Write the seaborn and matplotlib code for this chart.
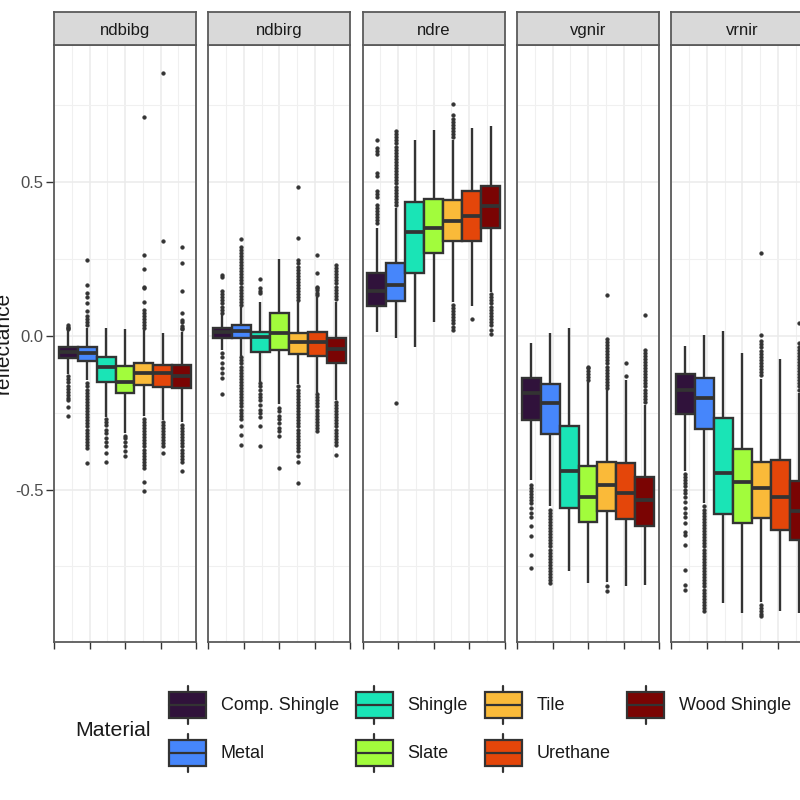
import numpy as np
import pandas as pd
import matplotlib
matplotlib.use("Agg")
import matplotlib.pyplot as plt
import seaborn as sns
from matplotlib.legend_handler import HandlerBase
from matplotlib.patches import Rectangle, Patch
from matplotlib.lines import Line2D

# ---------------- data ----------------
indices = ["ndbibg", "ndbirg", "ndre", "vgnir", "vrnir"]
materials = ["Comp. Shingle", "Metal", "Shingle", "Slate", "Tile", "Urethane", "Wood Shingle"]
colors = ["#30123B", "#4686FB", "#1AE4B6", "#A2FC3C", "#FABA39", "#E4460A", "#7A0403"]

# (lower whisker, q1, median, q3, upper whisker) per material
ndbibg_stats = [(-0.125, -0.073, -0.053, -0.036, 0.018),
                (-0.145, -0.082, -0.055, -0.038, 0.026),
                (-0.263, -0.149, -0.100, -0.070, 0.024),
                (-0.316, -0.187, -0.149, -0.097, 0.022),
                (-0.262, -0.160, -0.120, -0.088, 0.018),
                (-0.275, -0.168, -0.122, -0.095, 0.009),
                (-0.280, -0.171, -0.131, -0.095, 0.013)]
ndbibg_out = [[0.022, 0.026, 0.030, 0.034, -0.132, -0.142, -0.152, -0.162, -0.172, -0.182, -0.192, -0.202, -0.210, -0.232, -0.260],
              [0.035, 0.045, 0.055, 0.065, 0.081, 0.107, 0.127, 0.138, 0.165, 0.245,
               -0.155, -0.165, -0.175, -0.185, -0.195, -0.205, -0.215, -0.225, -0.235, -0.245, -0.255,
               -0.265, -0.275, -0.285, -0.295, -0.305, -0.315, -0.325, -0.335, -0.345, -0.355, -0.365, -0.413],
              [-0.270, -0.279, -0.290, -0.306, -0.317, -0.333, -0.344, -0.360, -0.382, -0.409],
              [-0.325, -0.333, -0.345, -0.360, -0.375, -0.390],
              [0.025, 0.035, 0.045, 0.055, 0.065, 0.075, 0.083, 0.110, 0.155, 0.160, 0.216, 0.262, 0.711,
               -0.27, -0.28, -0.29, -0.30, -0.31, -0.32, -0.33, -0.34, -0.35, -0.36, -0.37, -0.38, -0.39,
               -0.40, -0.41, -0.42, -0.43, -0.474, -0.505],
              [0.308, 0.855, -0.282, -0.29, -0.30, -0.31, -0.32, -0.33, -0.34, -0.35, -0.36, -0.382],
              [0.021, 0.026, 0.031, 0.045, 0.050, 0.073, 0.146, 0.237, 0.289,
               -0.29, -0.30, -0.31, -0.32, -0.33, -0.34, -0.35, -0.36, -0.37, -0.38, -0.39, -0.40, -0.41, -0.44]]

ndbirg_stats = [(-0.046, -0.006, 0.013, 0.025, 0.070),
                (-0.066, -0.006, 0.015, 0.035, 0.095),
                (-0.150, -0.053, -0.004, 0.013, 0.110),
                (-0.222, -0.046, 0.008, 0.075, 0.251),
                (-0.158, -0.058, -0.020, 0.010, 0.110),
                (-0.185, -0.067, -0.020, 0.012, 0.125),
                (-0.208, -0.088, -0.043, -0.007, 0.110)]
ndbirg_out = [[0.075, 0.085, 0.095, 0.105, 0.115, 0.125, 0.135, 0.145, 0.190, 0.197,
               -0.055, -0.068, -0.090, -0.106, -0.122, -0.138, -0.190],
              [0.10, 0.11, 0.12, 0.13, 0.14, 0.15, 0.16, 0.17, 0.18, 0.19, 0.20, 0.21, 0.22, 0.23, 0.24,
               0.25, 0.26, 0.27, 0.28, 0.29, 0.316,
               -0.07, -0.08, -0.09, -0.10, -0.11, -0.12, -0.13, -0.14, -0.15, -0.16, -0.17, -0.18, -0.19,
               -0.20, -0.21, -0.22, -0.23, -0.24, -0.25, -0.26, -0.27, -0.295, -0.322, -0.355],
              [0.140, 0.145, 0.155, 0.186, -0.155, -0.165, -0.175, -0.190, -0.200, -0.210, -0.225, -0.240,
               -0.250, -0.263, -0.293, -0.360],
              [-0.235, -0.245, -0.260, -0.270, -0.285, -0.300, -0.310, -0.325, -0.430],
              [0.115, 0.125, 0.135, 0.145, 0.155, 0.165, 0.175, 0.185, 0.195, 0.205, 0.215, 0.225, 0.235,
               0.246, 0.318, 0.484,
               -0.165, -0.175, -0.185, -0.195, -0.205, -0.215, -0.225, -0.235, -0.245, -0.255, -0.265,
               -0.275, -0.285, -0.295, -0.305, -0.315, -0.325, -0.335, -0.345, -0.355, -0.365, -0.375,
               -0.390, -0.410, -0.478],
              [0.133, 0.140, 0.148, 0.155, 0.160, 0.203, 0.264,
               -0.19, -0.20, -0.21, -0.22, -0.23, -0.24, -0.25, -0.26, -0.27, -0.28, -0.29, -0.30, -0.31],
              [0.12, 0.13, 0.14, 0.15, 0.16, 0.17, 0.18, 0.19, 0.20, 0.21, 0.22, 0.23,
               -0.215, -0.225, -0.235, -0.245, -0.255, -0.265, -0.275, -0.285, -0.295, -0.305, -0.315,
               -0.325, -0.335, -0.345, -0.355, -0.387]]

ndre_stats = [(0.013, 0.096, 0.145, 0.203, 0.350),
              (-0.008, 0.113, 0.166, 0.235, 0.415),
              (-0.036, 0.204, 0.337, 0.435, 0.635),
              (0.045, 0.268, 0.350, 0.443, 0.668),
              (0.110, 0.307, 0.373, 0.440, 0.635),
              (0.098, 0.307, 0.390, 0.470, 0.674),
              (0.142, 0.349, 0.422, 0.488, 0.683)]
ndre_out = [[0.368, 0.375, 0.385, 0.395, 0.405, 0.415, 0.425, 0.450, 0.460, 0.470, 0.520, 0.530,
             0.590, 0.600, 0.610, 0.635],
            [0.425, 0.435, 0.445, 0.455, 0.465, 0.475, 0.485, 0.495, 0.505, 0.515, 0.525, 0.535, 0.545,
             0.555, 0.565, 0.575, 0.585, 0.595, 0.605, 0.615, 0.625, 0.635, 0.645, 0.655, 0.665, -0.22],
            [],
            [],
            [0.645, 0.655, 0.665, 0.675, 0.685, 0.695, 0.706, 0.717, 0.752,
             0.100, 0.090, 0.080, 0.070, 0.060, 0.050, 0.040, 0.030, 0.018],
            [0.055],
            [0.135, 0.125, 0.115, 0.105, 0.095, 0.085, 0.075, 0.065, 0.055, 0.045, 0.035, 0.018, 0.005]]

vgnir_stats = [(-0.470, -0.275, -0.187, -0.138, -0.025),
               (-0.555, -0.318, -0.219, -0.158, 0.008),
               (-0.766, -0.560, -0.440, -0.295, 0.024),
               (-0.804, -0.606, -0.524, -0.423, -0.150),
               (-0.800, -0.569, -0.485, -0.411, -0.176),
               (-0.815, -0.597, -0.510, -0.414, -0.145),
               (-0.810, -0.618, -0.535, -0.460, -0.225)]
vgnir_out = [[-0.485, -0.495, -0.505, -0.515, -0.525, -0.535, -0.545, -0.560, -0.575, -0.590, -0.620,
              -0.650, -0.712, -0.755],
             [-0.565, -0.575, -0.585, -0.595, -0.605, -0.615, -0.625, -0.635, -0.645, -0.655, -0.665,
              -0.675, -0.685, -0.695, -0.705, -0.715, -0.725, -0.735, -0.745, -0.755, -0.765, -0.775,
              -0.785, -0.795, -0.805],
             [],
             [-0.145, -0.135, -0.125, -0.115, -0.105, -0.100],
             [-0.17, -0.16, -0.15, -0.14, -0.13, -0.12, -0.11, -0.10, -0.09, -0.08, -0.07, -0.06, -0.05,
              -0.04, -0.03, -0.02, -0.01, 0.132, -0.815, -0.830],
             [-0.131, -0.090],
             [-0.215, -0.205, -0.195, -0.185, -0.175, -0.165, -0.155, -0.145, -0.135, -0.125, -0.115,
              -0.105, -0.095, -0.085, -0.075, -0.065, -0.055, -0.045, 0.067]]

vrnir_stats = [(-0.440, -0.253, -0.176, -0.124, -0.033),
               (-0.545, -0.302, -0.203, -0.138, 0.004),
               (-0.869, -0.581, -0.447, -0.268, 0.017),
               (-0.900, -0.610, -0.474, -0.368, -0.056),
               (-0.865, -0.594, -0.494, -0.411, -0.140),
               (-0.896, -0.631, -0.523, -0.404, -0.075),
               (-0.900, -0.663, -0.570, -0.471, -0.185)]
vrnir_out = [[-0.450, -0.460, -0.470, -0.480, -0.490, -0.500, -0.510, -0.523, -0.540, -0.561, -0.577,
              -0.588, -0.610, -0.637, -0.648, -0.680, -0.761, -0.810, -0.826],
             [-0.555, -0.565, -0.575, -0.585, -0.595, -0.605, -0.615, -0.625, -0.635, -0.645, -0.655,
              -0.665, -0.675, -0.685, -0.695, -0.705, -0.715, -0.725, -0.735, -0.745, -0.755, -0.765,
              -0.775, -0.785, -0.795, -0.805, -0.815, -0.825, -0.835, -0.845, -0.855, -0.865, -0.875,
              -0.885, -0.895],
             [],
             [],
             [-0.128, -0.118, -0.108, -0.098, -0.088, -0.078, -0.068, -0.058, -0.048, -0.038, -0.028,
              -0.018, 0.002, 0.268, -0.875, -0.885, -0.895, -0.905, -0.912],
             [],
             [-0.175, -0.165, -0.155, -0.145, -0.135, -0.125, -0.115, -0.105, -0.095, -0.085, -0.075,
              -0.065, -0.055, -0.045, -0.035, -0.025, 0.042]]

all_stats = {"ndbibg": ndbibg_stats, "ndbirg": ndbirg_stats, "ndre": ndre_stats,
             "vgnir": vgnir_stats, "vrnir": vrnir_stats}
all_out = {"ndbibg": ndbibg_out, "ndbirg": ndbirg_out, "ndre": ndre_out,
           "vgnir": vgnir_out, "vrnir": vrnir_out}

# expand summaries into observations whose quartiles equal the summaries
N = 200
rows = []
for idx in indices:
    for m, (st, out) in enumerate(zip(all_stats[idx], all_out[idx])):
        wlo, q1, med, q3, whi = st
        vals = [wlo] + [q1] * N + [med] * N + [q3] * N + [whi] + list(out)
        for v in vals:
            rows.append((idx, materials[m], v))
df = pd.DataFrame(rows, columns=["index", "Material", "reflectance"])
df["grp"] = "all"

# ---------------- style ----------------
sns.set_theme(style="white")
plt.rcParams["font.family"] = ["Liberation Sans", "DejaVu Sans"]

W, H = 800.0, 800.0
fig = plt.figure(figsize=(8, 8), dpi=100)
fig.patch.set_facecolor("white")

lefts = [54.0, 208.3, 362.7, 517.0, 671.3]
pw = 142.0
ptop, pbot, stop = 45.0, 641.7, 12.0
edge = "#333333"
grid_c = "#EBEBEB"
border_c = "#5A5A5A"

for k, idx in enumerate(indices):
    ax = fig.add_axes([lefts[k] / W, 1 - pbot / H, pw / W, (pbot - ptop) / H])
    sub = df[df["index"] == idx]
    sns.boxplot(data=sub, x="grp", y="reflectance", hue="Material", hue_order=materials,
                palette=colors, saturation=1, width=0.935, dodge=True, linecolor=edge,
                linewidth=1.7, fliersize=2.7, showcaps=False, legend=False,
                flierprops=dict(marker="o", markerfacecolor=edge, markeredgecolor=edge,
                                markeredgewidth=0.3),
                medianprops=dict(linewidth=2.7, color=edge), ax=ax)
    ax.set_xlim(-0.5, 0.5)
    ax.set_ylim(-0.9945, 0.945)
    ax.set_xlabel("")
    ax.set_ylabel("")
    ax.set_xticks([-0.5, -0.25, 0, 0.25, 0.5])
    ax.set_xticks([-0.375, -0.125, 0.125, 0.375], minor=True)
    ax.set_xticklabels([])
    ax.set_yticks([-0.5, 0.0, 0.5])
    ax.set_yticks([-0.75, -0.25, 0.25, 0.75], minor=True)
    ax.set_axisbelow(True)
    ax.grid(which="major", color=grid_c, linewidth=1.1)
    ax.grid(which="minor", color="#F0F0F0", linewidth=0.8)
    ax.tick_params(axis="x", which="major", bottom=True, length=4.8, width=1.0, color=edge,
                   labelbottom=False)
    ax.tick_params(which="minor", length=0)
    if k == 0:
        ax.set_yticklabels(["-0.5", "0.0", "0.5"])
        ax.tick_params(axis="y", which="major", left=True, length=5.5, width=1.0, color=edge,
                       pad=1.8, labelsize=12, labelcolor="#4D4D4D")
    else:
        ax.tick_params(axis="y", which="major", left=False, labelleft=False)
    for s in ax.spines.values():
        s.set_color(border_c)
        s.set_linewidth(1.3)

    sax = fig.add_axes([lefts[k] / W, 1 - ptop / H, pw / W, (ptop - stop) / H])
    sax.set_facecolor("#D9D9D9")
    sax.set_xticks([])
    sax.set_yticks([])
    for s in sax.spines.values():
        s.set_color(border_c)
        s.set_linewidth(1.3)
    sax.text(0.5, 0.45, idx, ha="center", va="center", fontsize=12, color="#1A1A1A",
             transform=sax.transAxes)


# ---------------- legend ----------------
class BoxKeyHandler(HandlerBase):
    def create_artists(self, legend, orig_handle, xdescent, ydescent, width, height,
                       fontsize, trans):
        x0, y0 = -xdescent, -ydescent
        fc = orig_handle.get_facecolor()
        cx = x0 + width / 2
        b0 = y0 + height * 0.17
        b1 = y0 + height * 0.83
        arts = [
            Line2D([cx, cx], [y0, b0], color=edge, lw=1.6, transform=trans),
            Line2D([cx, cx], [b1, y0 + height], color=edge, lw=1.6, transform=trans),
            Rectangle((x0, b0), width, b1 - b0, facecolor=fc, edgecolor=edge, lw=1.6,
                      transform=trans),
            Line2D([x0, x0 + width], [(b0 + b1) / 2] * 2, color=edge, lw=1.6, transform=trans),
        ]
        return arts


handles = [Patch(facecolor=c, edgecolor=edge) for c in colors]
fig.legend(handles, materials, ncol=4, loc="upper left",
           bbox_to_anchor=(169 / W, 1 - 686 / H), frameon=False, fontsize=13,
           handlelength=2.05, handleheight=2.866, handletextpad=0.82, columnspacing=0.93,
           labelspacing=0.55, borderpad=0, borderaxespad=0,
           handler_map={Patch: BoxKeyHandler()}, labelcolor="#1A1A1A")
fig.text(75 / W, 1 - 731 / H, "Material", fontsize=15.3, ha="left", va="center", color="#1A1A1A")
fig.text(3 / W, 1 - 343 / H, "reflectance", fontsize=15, rotation=90, ha="center", va="center",
         color="#1A1A1A")

fig.savefig("out.png", dpi=100)
